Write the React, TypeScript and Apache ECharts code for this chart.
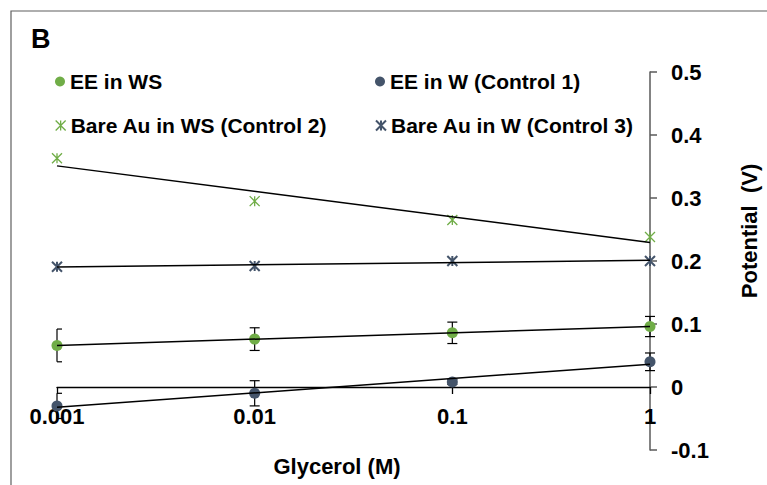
import React, { useEffect, useRef } from "react";
import * as echarts from "echarts";

const concentrations = [0.001, 0.01, 0.1, 1];
const xTickLabels = ["0.001", "0.01", "0.1", "1"];

const eeInWS = [0.066, 0.076, 0.086, 0.096];
const eeInWSErr = [0.026, 0.018, 0.017, 0.016];
const eeInW = [-0.03, -0.01, 0.008, 0.04];
const eeInWErr = [0.02, 0.02, 0.004, 0.014];
const bareAuInWS = [0.363, 0.295, 0.265, 0.238];
const bareAuInW = [0.191, 0.192, 0.2, 0.2];

const seriesNames = [
  "EE in WS",
  "EE in W (Control 1)",
  "Bare Au in WS (Control 2)",
  "Bare Au in W (Control 3)",
];

const GREEN = "#70AD47";
const BLUE = "#44546A";
const FONT = "'Liberation Sans', Arial, sans-serif";
const STAR = "path://M0,0L10,10M10,0L0,10M5,0L5,10";

function logFit(xs: number[], ys: number[]) {
  const lx = xs.map((x) => Math.log10(x));
  const n = lx.length;
  const mx = lx.reduce((a, b) => a + b, 0) / n;
  const my = ys.reduce((a, b) => a + b, 0) / n;
  let sxy = 0;
  let sxx = 0;
  for (let i = 0; i < n; i++) {
    sxy += (lx[i] - mx) * (ys[i] - my);
    sxx += (lx[i] - mx) * (lx[i] - mx);
  }
  const b = sxy / sxx;
  const a = my - b * mx;
  const x0 = xs[0];
  const x1 = xs[n - 1];
  return [
    [x0, a + b * Math.log10(x0)],
    [x1, a + b * Math.log10(x1)],
  ];
}

function pts(ys: number[]) {
  return concentrations.map((x, i) => [x, ys[i]]);
}

function errData(ys: number[], es: number[]) {
  return concentrations.map((x, i) => [x, ys[i], es[i]]);
}

function errorBarSeries(ys: number[], es: number[]) {
  return {
    type: "custom",
    silent: true,
    z: 2,
    encode: { x: 0, y: 1 },
    data: errData(ys, es),
    renderItem: (params: any, api: any) => {
      const xv = api.value(0);
      const yv = api.value(1);
      const e = api.value(2);
      const top = api.coord([xv, yv + e]);
      const bot = api.coord([xv, yv - e]);
      const minX = params.coordSys && params.coordSys.x != null ? params.coordSys.x : 57;
      const left = Math.max(minX, top[0] - 5);
      const right = top[0] + 5;
      const style = { stroke: "#000", lineWidth: 1.2 };
      return {
        type: "group",
        children: [
          { type: "line", shape: { x1: top[0], y1: top[1], x2: bot[0], y2: bot[1] }, style },
          { type: "line", shape: { x1: left, y1: top[1], x2: right, y2: top[1] }, style },
          { type: "line", shape: { x1: left, y1: bot[1], x2: right, y2: bot[1] }, style },
        ],
      };
    },
  };
}

function trendSeries(ys: number[]) {
  return {
    type: "line",
    silent: true,
    z: 5,
    symbol: "none",
    data: logFit(concentrations, ys),
    lineStyle: { color: "#000", width: 1.5 },
  };
}

const legendText = { fontSize: 21, fontWeight: "bold", color: "#000", fontFamily: FONT };

function legendAt(name: string, left: number, top: number, icon: string, itemStyle: any) {
  return {
    left,
    top,
    padding: 0,
    itemWidth: 10,
    itemHeight: 10,
    selectedMode: false,
    textStyle: legendText,
    data: [{ name, icon, itemStyle }],
  };
}

export default function App() {
  const ref = useRef<HTMLDivElement>(null);

  useEffect(() => {
    if (!ref.current) return;
    const chart = echarts.init(ref.current, null, { renderer: "svg" });
    const option: any = {
      animation: false,
      backgroundColor: "#fff",
      grid: { left: 57, right: 117, top: 72, bottom: 35 },
      legend: [
        legendAt(seriesNames[0], 55, 71, "circle", { color: GREEN }),
        legendAt(seriesNames[1], 375, 71, "circle", { color: BLUE }),
        legendAt(seriesNames[2], 55, 115, STAR, { color: "transparent", borderColor: GREEN, borderWidth: 1.3 }),
        legendAt(seriesNames[3], 375, 115, STAR, { color: "transparent", borderColor: BLUE, borderWidth: 2 }),
      ],
      xAxis: {
        type: "log",
        logBase: 10,
        min: 0.001,
        max: 1,
        splitLine: { show: false },
        axisLine: { show: true, onZero: true, lineStyle: { color: "#000", width: 1.3 } },
        axisTick: { show: true, length: 7, lineStyle: { color: "#000", width: 1.3 } },
        axisLabel: {
          margin: -45,
          fontSize: 22,
          fontWeight: "bold",
          color: "#000",
          fontFamily: FONT,
          formatter: (v: number) => xTickLabels[Math.round(Math.log10(v)) + 3],
        },
      },
      yAxis: {
        type: "value",
        position: "right",
        min: -0.1,
        max: 0.5,
        interval: 0.1,
        splitLine: { show: false },
        axisLine: { show: true, onZero: false, lineStyle: { color: "#5a5a5a", width: 1.5 } },
        axisTick: { show: true, length: 7, lineStyle: { color: "#5a5a5a", width: 1.5 } },
        axisLabel: {
          margin: 21,
          fontSize: 22,
          fontWeight: "bold",
          color: "#000",
          fontFamily: FONT,
          verticalAlign: "middle",
          lineHeight: 22,
          padding: [6, 0, 0, 0],
          formatter: (v: number) => (Math.abs(v) < 1e-9 ? "0" : v.toFixed(1)),
        },
      },
      graphic: [
        {
          type: "rect",
          shape: { x: 11, y: 11, width: 820, height: 520 },
          style: { fill: "none", stroke: "#5f5f5f", lineWidth: 1.2 },
          silent: true,
        },
        {
          type: "text",
          x: 31,
          y: 39,
          style: {
            text: "B",
            fontSize: 27,
            fontWeight: "bold",
            fill: "#000",
            fontFamily: FONT,
            textVerticalAlign: "middle",
          },
        },
        {
          type: "text",
          x: 337,
          y: 466,
          style: {
            text: "Glycerol (M)",
            fontSize: 22,
            fontWeight: "bold",
            fill: "#000",
            fontFamily: FONT,
            textAlign: "center",
            textVerticalAlign: "middle",
          },
        },
        {
          type: "text",
          x: 749,
          y: 231,
          rotation: Math.PI / 2,
          style: {
            text: "Potential  (V)",
            fontSize: 22,
            fontWeight: "bold",
            fill: "#000",
            fontFamily: FONT,
            textAlign: "center",
            textVerticalAlign: "middle",
          },
        },
      ],
      series: [
        errorBarSeries(eeInWS, eeInWSErr),
        errorBarSeries(eeInW, eeInWErr),
        {
          name: seriesNames[0],
          type: "scatter",
          z: 3,
          symbol: "circle",
          symbolSize: 11,
          itemStyle: { color: GREEN, opacity: 1 },
          data: pts(eeInWS),
        },
        {
          name: seriesNames[1],
          type: "scatter",
          z: 3,
          symbol: "circle",
          symbolSize: 11,
          itemStyle: { color: BLUE, opacity: 1 },
          data: pts(eeInW),
        },
        {
          name: seriesNames[2],
          type: "scatter",
          z: 3,
          symbol: STAR,
          symbolSize: 10,
          itemStyle: { color: "transparent", borderColor: GREEN, borderWidth: 1.3, opacity: 1 },
          data: pts(bareAuInWS),
        },
        {
          name: seriesNames[3],
          type: "scatter",
          z: 3,
          symbol: STAR,
          symbolSize: 10,
          itemStyle: { color: "transparent", borderColor: BLUE, borderWidth: 2, opacity: 1 },
          data: pts(bareAuInW),
        },
        trendSeries(eeInWS),
        trendSeries(eeInW),
        trendSeries(bareAuInWS),
        trendSeries(bareAuInW),
      ],
    };
    chart.setOption(option);
    return () => chart.dispose();
  }, []);

  return (
    <div
      ref={ref}
      style={{ position: "absolute", left: 0, top: 0, width: 767, height: 485 }}
    />
  );
}
